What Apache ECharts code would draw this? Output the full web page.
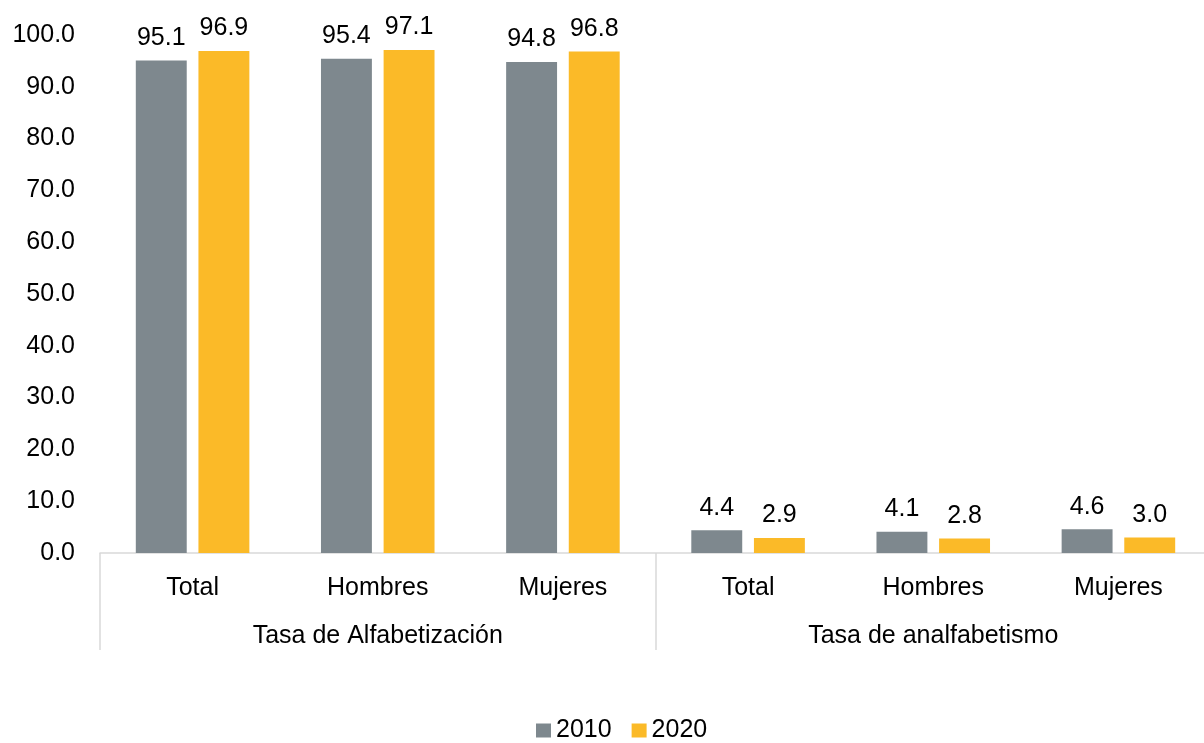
<!DOCTYPE html>
<html><head><meta charset="utf-8">
<script src="https://cdn.jsdelivr.net/npm/echarts@6/dist/echarts.min.js"></script>
<style>html,body{margin:0;padding:0;background:#fff;overflow:hidden}#c{width:1211px;height:743px}</style>
</head><body><div id="c"></div>
<script>
const categories = ['Total','Hombres','Mujeres','Total','Hombres','Mujeres'];
const groups = ['Tasa de Alfabetización','Tasa de analfabetismo'];
const s2010 = [95.1, 95.4, 94.8, 4.4, 4.1, 4.6];
const s2020 = [96.9, 97.1, 96.8, 2.9, 2.8, 3.0];
const seriesNames = ['2010','2020'];
const yTicks = {min:0, max:100, interval:10};

const font = 'Liberation Sans, Arial, sans-serif';
const fs = 25;
const chart = echarts.init(document.getElementById('c'));
const lbl = {show:true, position:'top', distance:10, fontSize:fs, color:'#000', fontFamily:font, formatter:p=>p.value.toFixed(1)};
chart.setOption({
  animation:false,
  textStyle:{fontFamily:font},
  grid:{left:100, top:35, right:0, bottom:190, containLabel:false},
  legend:{top:713, left:531, itemWidth:15, itemHeight:14, itemGap:20, icon:'rect',
    textStyle:{fontSize:fs, color:'#000', fontFamily:font}, data:seriesNames},
  xAxis:[
    {type:'category', data:categories, position:'bottom',
      axisLine:{show:true, lineStyle:{color:'#d9d9d9', width:1.5}},
      axisTick:{show:false},
      axisLabel:{fontSize:fs, color:'#000', margin:23, interval:0, fontFamily:font}},
    {type:'category', data:groups, position:'bottom',
      axisLine:{show:false},
      axisTick:{show:true, length:97, lineStyle:{color:'#d9d9d9', width:1.5}},
      axisLabel:{fontSize:fs, color:'#000', margin:71, interval:0, fontFamily:font}}
  ],
  yAxis:{type:'value', min:yTicks.min, max:yTicks.max, interval:yTicks.interval,
    splitLine:{show:false}, axisLine:{show:false}, axisTick:{show:false},
    axisLabel:{fontSize:fs, color:'#000', margin:25, fontFamily:font, formatter:v=>v.toFixed(1)}},
  series:[
    {name:seriesNames[0], type:'bar', xAxisIndex:0, data:s2010, barWidth:'27.5%', barGap:'23%',
      itemStyle:{color:'#7e888e'}, label:lbl},
    {name:seriesNames[1], type:'bar', xAxisIndex:0, data:s2020, barWidth:'27.5%', barGap:'23%',
      itemStyle:{color:'#fbba28'}, label:lbl}
  ]
});
</script></body></html>
